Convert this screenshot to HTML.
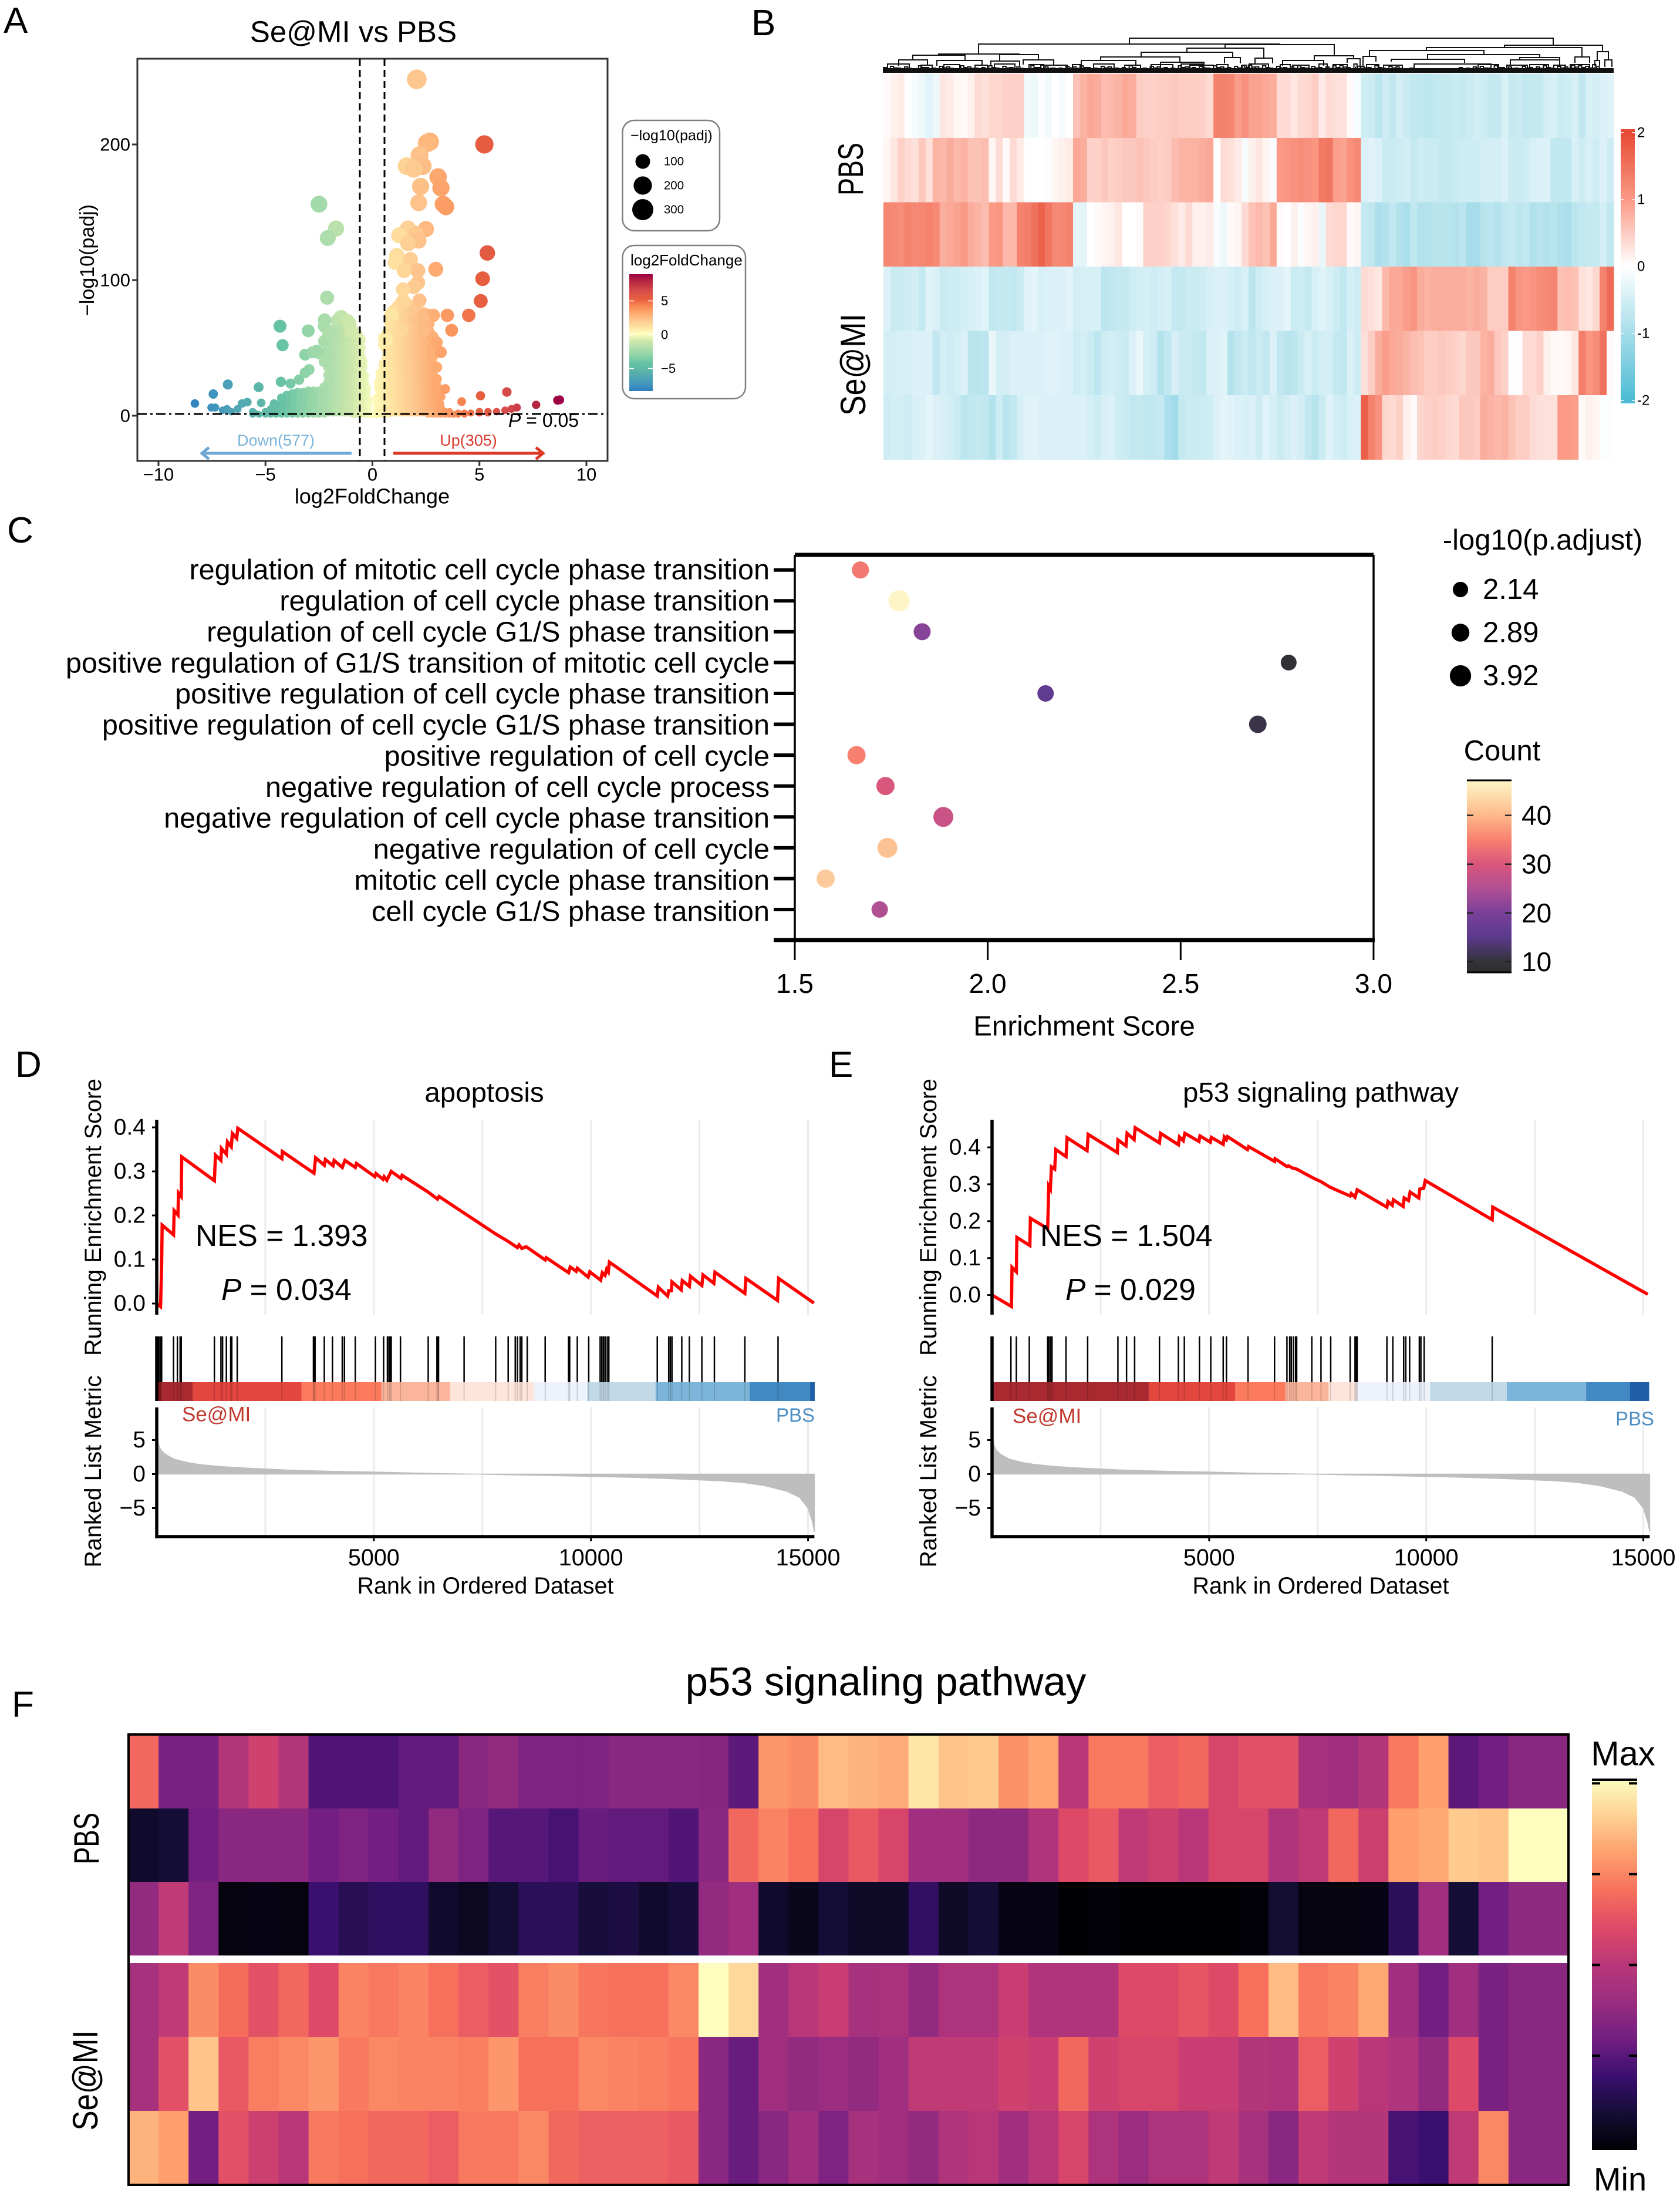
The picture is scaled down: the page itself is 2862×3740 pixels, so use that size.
<!DOCTYPE html>
<html lang="en">
<head>
<meta charset="utf-8">
<title>Se@MI vs PBS multi-panel figure</title>
<style>
html,body{margin:0;padding:0;background:#fff}
svg{display:block}
text{font-family:"Liberation Sans",sans-serif;fill:#000}
</style>
</head>
<body>
<svg id="figure" xmlns="http://www.w3.org/2000/svg" width="2862" height="3740" viewBox="0 0 2862 3740">
<rect x="0" y="0" width="2862" height="3740" fill="#fff"/>

<text x="6" y="56" font-size="62">A</text>
<text x="1280" y="60" font-size="62">B</text>
<text x="12" y="924" font-size="62">C</text>
<text x="26" y="1834" font-size="62">D</text>
<text x="1412" y="1834" font-size="62">E</text>
<text x="20" y="2924" font-size="62">F</text>

<!-- Panel A -->
<g id="panel-a">
  <text x="602" y="54" font-size="51" text-anchor="middle" dominant-baseline="central">Se@MI vs PBS</text>
  <g id="volcano-points"></g>
  <rect x="234" y="100" width="801" height="685" fill="none" stroke="#333" stroke-width="3"/>
  <line x1="613" x2="613" y1="100" y2="785" stroke="#000" stroke-width="3" stroke-dasharray="12 7"/>
  <line x1="655" x2="655" y1="100" y2="785" stroke="#000" stroke-width="3" stroke-dasharray="12 7"/>
  <line x1="234" x2="1035" y1="705" y2="705" stroke="#000" stroke-width="3" stroke-dasharray="16 6 4 6"/>
  <text x="866" y="716" font-size="32" dominant-baseline="central"><tspan font-style="italic">P</tspan> = 0.05</text>
  <text x="470" y="750" font-size="27" fill="#7ab3d8" style="fill:#7ab3d8" text-anchor="middle" dominant-baseline="central">Down(577)</text>
  <text x="798" y="750" font-size="27" style="fill:#d93a2e" text-anchor="middle" dominant-baseline="central">Up(305)</text>
  <path d="M599 772H344M356 762L344 772L356 782" fill="none" stroke="#6fa8d4" stroke-width="5"/>
  <path d="M670 772H925M913 762L925 772L913 782" fill="none" stroke="#dc3a28" stroke-width="5"/>
  <g id="volcano-axes"></g>
  <text x="634" y="845" font-size="36" text-anchor="middle" dominant-baseline="central">log2FoldChange</text>
  <text transform="translate(149,443) rotate(-90)" font-size="34" text-anchor="middle" dominant-baseline="central">−log10(padj)</text>
  <rect x="1060.5" y="205" width="165.5" height="188" rx="20" fill="#fff" stroke="#808080" stroke-width="2.5"/>
  <text x="1074" y="231" font-size="25" dominant-baseline="central">−log10(padj)</text>
  <g id="volcano-size-legend"></g>
  <rect x="1060.5" y="418" width="209.5" height="261" rx="20" fill="#fff" stroke="#808080" stroke-width="2.5"/>
  <text x="1074" y="443" font-size="26" dominant-baseline="central">log2FoldChange</text>
  <g id="volcano-color-legend"></g>
</g>

<!-- Panel B -->
<g id="panel-b">
  <g id="dendrogram" fill="none" stroke="#111" stroke-width="2"></g>
  <g id="expression-cells"></g>
  <text transform="translate(1470,288) rotate(-90)" font-size="60" text-anchor="middle" textLength="90" lengthAdjust="spacingAndGlyphs">PBS</text>
  <text transform="translate(1474,621) rotate(-90)" font-size="60" text-anchor="middle" textLength="174" lengthAdjust="spacingAndGlyphs">Se@MI</text>
  <g id="expression-legend"></g>
</g>

<!-- Panel C -->
<g id="panel-c">
  <g id="dotplot-axes"></g>
  <line x1="1354" x2="1354" y1="945" y2="1601" stroke="#000" stroke-width="3.5"/>
  <line x1="2340" x2="2340" y1="945" y2="1601" stroke="#000" stroke-width="3.5"/>
  <line x1="1354" x2="2340" y1="945" y2="945" stroke="#000" stroke-width="7"/>
  <line x1="1318" x2="2342" y1="1601" y2="1601" stroke="#000" stroke-width="7"/>
  <g id="dotplot-dots"></g>
  <text x="1847" y="1748" font-size="47.5" text-anchor="middle" dominant-baseline="central">Enrichment Score</text>
  <text x="2628" y="920" font-size="49" text-anchor="middle" dominant-baseline="central">-log10(p.adjust)</text>
  <g id="dotplot-size-legend"></g>
  <text x="2559" y="1279" font-size="49" text-anchor="middle" dominant-baseline="central">Count</text>
  <g id="dotplot-color-legend"></g>
</g>

<!-- Panel D -->
<g id="panel-d">
  <g id="gsea-d"></g>
  <text x="825" y="1861" font-size="47.5" text-anchor="middle" dominant-baseline="central">apoptosis</text>
  <text transform="translate(159,2073) rotate(-90)" font-size="39.5" text-anchor="middle" dominant-baseline="central">Running Enrichment Score</text>
  <text transform="translate(159,2506) rotate(-90)" font-size="39.5" text-anchor="middle" dominant-baseline="central">Ranked List Metric</text>
  <text x="827" y="2701" font-size="39.5" text-anchor="middle" dominant-baseline="central">Rank in Ordered Dataset</text>
  <text x="333" y="2104" font-size="51.5" dominant-baseline="central">NES = 1.393</text>
  <text x="377" y="2196" font-size="51.5" dominant-baseline="central"><tspan font-style="italic">P</tspan> = 0.034</text>
  <text x="310" y="2409" font-size="35" style="fill:#c0392f" dominant-baseline="central">Se@MI</text>
  <text x="1388" y="2410" font-size="33" style="fill:#4d8fc4" text-anchor="end" dominant-baseline="central">PBS</text>
</g>

<!-- Panel E -->
<g id="panel-e">
  <g id="gsea-e"></g>
  <text x="2250" y="1861" font-size="47.5" text-anchor="middle" dominant-baseline="central">p53 signaling pathway</text>
  <text transform="translate(1582,2073) rotate(-90)" font-size="39.5" text-anchor="middle" dominant-baseline="central">Running Enrichment Score</text>
  <text transform="translate(1582,2506) rotate(-90)" font-size="39.5" text-anchor="middle" dominant-baseline="central">Ranked List Metric</text>
  <text x="2250" y="2701" font-size="39.5" text-anchor="middle" dominant-baseline="central">Rank in Ordered Dataset</text>
  <text x="1772" y="2104" font-size="51.5" dominant-baseline="central">NES = 1.504</text>
  <text x="1815" y="2196" font-size="51.5" dominant-baseline="central"><tspan font-style="italic">P</tspan> = 0.029</text>
  <text x="1725" y="2412" font-size="35" style="fill:#c0392f" dominant-baseline="central">Se@MI</text>
  <text x="2818" y="2416" font-size="33" style="fill:#4d8fc4" text-anchor="end" dominant-baseline="central">PBS</text>
</g>

<!-- Panel F -->
<g id="panel-f">
  <text x="1509" y="2864" font-size="69" text-anchor="middle" dominant-baseline="central">p53 signaling pathway</text>
  <g id="p53-cells"></g>
  <rect x="219" y="2954" width="2453" height="767" fill="none" stroke="#000" stroke-width="4"/>
  <text transform="translate(168,3131) rotate(-90)" font-size="60" text-anchor="middle" textLength="88" lengthAdjust="spacingAndGlyphs">PBS</text>
  <text transform="translate(166,3543) rotate(-90)" font-size="60" text-anchor="middle" textLength="171" lengthAdjust="spacingAndGlyphs">Se@MI</text>
  <text x="2765" y="2987" font-size="58" text-anchor="middle" dominant-baseline="central">Max</text>
  <text x="2760" y="3711" font-size="56" text-anchor="middle" dominant-baseline="central">Min</text>
  <g id="p53-legend"></g>
</g>
<defs id="grads"></defs>
</svg>

<script>
// ---------- Panel A data ----------
const volcanoXTicks = [-10, -5, 0, 5, 10];
const volcanoYTicks = [0, 100, 200];
const volcanoColumnFc = [-0.1,-0.2,-0.3,-0.4,-0.5,-0.6,-0.75,-0.9,-1.05,-1.25,-1.45,-1.65,-1.85,-2.05,-2.25,-2.5,-2.75,-3,-3.25,-3.5,-3.75,-4,-4.25,-4.5,-4.75,-5,-5.3,-5.6,
  0.1,0.2,0.3,0.4,0.55,0.7,0.85,1,1.2,1.4,1.6,1.8,2,2.2,2.4,2.6,2.8,3,3.2,3.4,3.6,3.8,4,4.3,4.6,5,5.4,5.8,6.2,6.5];
const volcanoColumnPadj = [
 [0.5,1],[1,4,8,11],[1,5,10,15,20],[1,6,12,18,24,29],[1,6,11,16,21,26,31,36,40],[1,6,11,16,21,26,32,38,44,50,56],[1,6,11,16,21,26,32,38,44,50,55,60],[1,6,11,16,21,26,32,38,44,50,56,62],
 [2,7,12,17,22,27,32,38,44,50,56,63,68],[2,7,12,17,22,27,32,38,44,50,56,64,70],[2,7,12,17,22,27,32,38,44,50,57,65,73],[2,7,12,17,22,27,32,38,44,50,57,64,70],[2,7,12,17,22,27,32,38,44,50,56,62],
 [2,6,10,15,20,25,30,36,44,52,60],[1,5,9,13,17,21,40,46,55,66],[1,5,9,13,18,46],[1,5,9,13,18,47],[1,5,9,13,18],[1,5,9,13,17],[1,5,9,13,17],[1,5,9,12,16],[1,5,9,12,15],[1,4,7,10,13],[1,4,8],[1,3,5],[1,3],[1],[1,3],
 [0.5,1],[0.5,2,5,9,13],[1,4,9,14,20,24],[1,5,10,16,22,28,31],[1,6,11,16,21,26,31,35,38,52,57],[1,6,11,16,21,26,31,37,43,49,55,60],[2,7,12,17,22,27,32,38,44,50,56,62,68,74],
 [2,7,12,17,22,27,32,38,44,50,56,62,68,77],[2,7,12,17,22,27,32,38,44,50,56,62,68,74,80],[2,7,12,17,22,27,32,38,44,50,56,62,68,76,84],[2,7,12,17,22,27,32,38,44,50,56,62,68,75,82],[2,7,12,17,22,27,32,38,44,50,56,62,68,76],
 [2,7,12,17,22,27,32,38,44,50,56,62,70,78],[2,7,12,17,22,27,32,38,44,50,56,62,70,85],[2,7,12,17,22,27,32,38,44,50,56,62,70,75],[1,6,11,16,21,26,32,38,44,50,56,62,68,74],[1,6,11,16,21,26,32,38,44,50,58],[1,5,9,13,17,22,27],[1,3,6,14],[1,3],[1,3],[1],[1,2],[1,2],[2],[2,3],[2,3],[3],[4],[5]
];
const volcanoOutlierFc = [2.07,2.68,2.55,5.23,2.2,2.35,1.6,1.93,3.07,3.2,2.25,2.16,3.3,3.43,-2.5,-1.7,-2.09,1.66,2.5,2.05,1.25,2.16,1.66,5.37,1.14,1.77,1.07,2.96,2.12,1.48,5.15,2.12,1.93,1.43,-2.12,5.06,2.2,1.48,4.5,3.5,2.84,0.91,2.39,-2.24,-1.5,-1.15,3.7,-4.32,-3,-1.98,-1.02,2.39,1.37,0.68,3,-4.2,3.2,-3.15,-2.8,-2.6,-2.16,3,-2.96,-3.15,-3.43,-3.83,-4.28,-5.32,-6.76,-7.44,-8.3,-7.53,-7.35,6.28,5.05,4.17,3.4,3.15,8.65,8.75,7.65,6.75,-5.2,-5.85,-6.1,-7,-6.8,-6.6,-6.3,-5.5,-4.9,-4.6];
const volcanoOutlierPadj = [248,202,201,200,192,184,184,182,176,168,169,157,156,154,156,138,131,138,137.6,134,133,129,127,120,118,115,113,108,107,107,101,98,95,93,87,84.6,85,84,74,74,74,74,72,70.6,72.7,70,63,66,62.6,61,62,62,63,56,54,52,46.8,45,46.8,48,42,35.7,34,31.6,26.6,23.7,25,21,23,16,9,6,6,17.5,14.7,10.4,19.7,9,11.4,11.7,8,6,9.5,10,9,4,5,3,5,2,3,9];
const volcanoColorPos = [-8.7,-7.5,-6.8,-5.3,-4.3,-3,-2,-1,0,1,2,3,4,5,6.3,7.6,8.7];
const volcanoColorHex = ['#2a7fc0','#3f92bd','#4a9fb8','#5db5a8','#66c2a5','#93d5a7','#b0deac','#d0e9ab','#ffffbf','#fee2a0','#fdc890','#fdaa70','#f98a55','#e8603f','#d64b4b','#b8283f','#9e0142'];
const volcanoSizeLegendValues = [100,200,300];
const volcanoColorLegendTicks = [-5,0,5];

// ---------- Panel B data ----------
const exprRow1 = [.05,.15,.2,0,-.1,-.2,-.35,-.2,.25,.2,.1,.05,.15,.35,.3,.4,.4,.45,.45,.45,-.15,-.2,-.05,-.15,0,-.1,0,
 .6,.75,.85,.8,.65,.7,.75,.85,.8,.5,.45,.45,.5,.5,.55,.5,.5,.5,.45,.35,
 1.3,1.3,1.25,.95,1.1,.9,.9,.85,.8,.35,.35,.25,.35,.4,.5,.2,.35,.3,.3,.05,-.1,
 -.55,-.6,-.75,-.55,-.7,-.5,-.6,-.7,-.7,-.75,-.7,-.65,-.65,-.6,-.65,-.6,-.5,-.55,-.65,-.65,-.45,-.65,-.6,-.7,-.65,-.65,-.5,-.45,-.6,-.55,-.45,-.7,-.45,-.5,-.4,-.35];
const exprRow2 = [.1,.25,.45,.35,.3,.55,.3,.75,.7,.8,.7,.75,.6,.6,.65,.1,.35,.05,.35,.2,-.03,0,0,-.05,.1,.15,.2,
 .85,.8,.45,.45,.55,.45,.5,.55,.55,.6,.55,.5,.45,.5,.65,.75,.75,.75,.8,.85,
 0,.35,.3,.2,-.1,.15,.25,.1,-.05,1,1.05,1.1,1.15,1.1,1.05,1.4,1.45,.95,.9,1.1,1.2,
 -.4,-.35,-.4,-.6,-.6,-.55,-.5,-.65,-.55,-.6,-.6,-.65,-.65,-.6,-.55,-.55,-.55,-.5,-.5,-.5,-.4,-.6,-.6,-.55,-.45,-.4,-.4,-.7,-.7,-.7,-.45,-.55,-.45,-.55,-.4,-.55];
const exprRow3 = [1.25,1.2,1.15,1.3,1.2,1.25,1.3,1.2,.8,.85,.9,1,.8,.75,.65,1,1.05,.7,.7,1.3,1.35,1.5,1.7,1.45,1.2,1.25,1.3,
 -.3,-.3,0,.05,.1,.15,.25,0,0,.05,.45,.45,.45,.4,.3,.2,.35,.15,.15,.2,
 -.1,-.2,.05,.1,.35,.6,.7,.6,.85,.05,0,.15,-.05,.1,.15,-.25,.35,.4,.4,.05,.1,
 -.65,-.7,-.95,-.85,-.7,-.85,-.95,-.7,-.85,-.85,-.8,-.8,-.8,-.85,-.75,-1,-1,-.8,-.75,-.85,-.7,-.65,-.75,-.7,-.9,-.8,-.85,-.8,-.9,-.95,-.75,-.7,-.65,-.65,-.5,-.7];
const exprRow4 = [-.4,-.6,-.6,-.55,-.5,-.65,-.35,-.4,-.6,-.55,-.55,-.5,-.45,-.4,-.35,-.7,-.65,-.65,-.7,-.6,-.35,-.3,-.45,-.4,-.4,-.4,-.35,-.5,-.45,-.45,-.45,-.75,-.7,-.65,-.65,-.55,-.5,-.5,-.55,-.5,-.45,-.65,-.65,-.6,-.6,-.55,-.45,-.4,-.4,-.5,-.55,-.45,
 -.75,-.55,-.45,-.4,-.4,-.3,-.6,-.55,-.65,-.45,-.35,-.45,-.55,-.7,-.5,-.55,
 .35,.3,.25,.7,.85,.85,.95,1.05,.8,.75,.8,.8,.8,.8,.8,.75,.8,.75,.5,.5,.5,1.3,1.05,1,1.05,1.15,1.2,1.25,.6,.65,.6,.3,.25,.4,1.3,1.6];
const exprRow5 = [-.5,-.5,-.45,-.45,-.4,-.4,-.4,-.7,-.5,-.55,-.5,-.4,-.75,-.8,-.75,-.25,-.5,-.5,-.4,-.4,-.4,-.4,-.4,-.35,-.35,-.4,-.4,-.55,-.5,-.6,-.75,-.55,-.5,-.55,-.6,-.4,-.25,-.5,-.55,-.85,-.7,-.45,-.6,-.6,-.65,-.7,-.4,-.4,-.35,-.85,-.7,-.6,
 -.7,-.6,-.7,-.4,-.7,-.8,-.75,-.6,-.45,-.6,-.5,-.5,-.65,-.7,-.4,-.55,
 .3,.5,.8,.95,.85,.8,.75,.65,.6,.5,.5,.55,.5,.45,.4,.55,.55,.75,.8,.55,.45,-.02,.02,.35,.35,.45,.15,.05,.05,.1,.25,1.35,1.05,1.15,1.5,.05];
const exprRow6 = [-.55,-.5,-.5,-.55,-.45,-.4,-.3,-.4,-.45,-.5,-.6,-.75,-.7,-.65,-.7,-.85,-.55,-.8,-.7,-.45,-.35,-.35,-.4,-.4,-.4,-.4,-.4,-.4,-.4,-.5,-.55,-.45,-.4,-.55,-.6,-.7,-.65,-.7,-.7,-.65,-.95,-1.05,-.65,-.6,-.6,-.55,-.55,-.4,-.3,-.35,-.4,-.45,
 -.4,-.55,-.35,-.5,-.6,-.5,-.4,-.5,-.7,-.8,-.6,-.35,-.5,-.55,-.45,-.4,
 1.75,1.3,1.1,.4,.35,.45,.15,.05,.4,.45,.5,.45,.4,.35,.55,.55,.5,.8,.75,.7,.75,.6,.5,.5,.35,.3,.3,.3,1,1,.95,.05,.15,.1,-.05,-.03];
const exprRows = [exprRow1, exprRow2, exprRow3, exprRow4, exprRow5, exprRow6];
const exprColorPos = [-2,0,1,2];
const exprColorHex = ['#4dbbd5','#ffffff','#fa9985','#e64b35'];
const exprLegendTicks = [2,1,0,-1,-2];
const dendLeft  = [419,162,582,517,439,370,337,472,581,94,50,26,91,198,238,183,734,680,790,633,1058,925,828,927,817,865,904,1068,1084,1178,1216,1212,1229,
 7,64,103,156,189,248,268,322,358,411,456,507,522,568,611,623,676,697,742,766,823,852,913,1013,1062,1101,1142,1170];
const dendRight = [1141,675,768,648,595,505,430,546,608,231,139,75,168,264,290,232,801,750,812,663,1225,1190,1023,1118,839,990,1035,1152,1152,1203,1235,1220,1241,
 44,83,130,177,224,273,313,337,393,438,493,546,562,587,619,656,693,725,756,790,844,884,1003,1048,1097,1133,1162,1203];
const dendHeight = [59,49,48,42,35,27,21,18,26,32,30,22,21,31,22,20,29,21,24,25,47,43,38,31,28,23,15,22,26,27,36,21,22,
 15,13,14,13,15,14,13,14,15,13,14,15,13,14,13,15,14,13,15,14,14,13,7,14,13,14,13,14];
const dendLeftChild  = [49,32,42,35,27,21,11,11,16,30,22,12,12,20,14,12,22,12,17,16,44,39,29,24,9,19,6,14,22,17,22,12,10,
 8,7,8,7,8,8,7,8,8,7,8,8,7,8,7,8,8,7,8,8,8,7,4,8,7,8,7,8];
const dendRightChild = [47,48,29,24,26,19,11,11,16,31,21,12,12,22,14,12,24,12,9,16,37,27,31,26,19,17,6,14,14,17,22,12,10,
 8,7,8,7,8,8,7,8,8,7,8,8,7,8,7,8,8,7,8,8,8,7,4,8,7,8,7,8];
const dendLeafHeights = [9,11,8,10,7,12,9,8,11,10,7,12,10,8,9,12,8,11,9,10,7,12,9,10,8,8,11,
 10,12,9,8,11,10,8,9,12,7,8,11,10,9,8,12,10,9,11,8,12,10,9,11,12,13,10,12,8,11,9,10,12,8,11,9,10,12,13,9,15,
 11,9,12,8,11,10,7,8,6,6,7,6,7,6,9,8,10,11,8,12,9,10,8,11,9,10,12,8,11,10,13,12,11,14];

// ---------- Panel C data ----------
const dotTerms = ['regulation of mitotic cell cycle phase transition','regulation of cell cycle phase transition','regulation of cell cycle G1/S phase transition','positive regulation of G1/S transition of mitotic cell cycle','positive regulation of cell cycle phase transition','positive regulation of cell cycle G1/S phase transition','positive regulation of cell cycle','negative regulation of cell cycle process','negative regulation of cell cycle phase transition','negative regulation of cell cycle','mitotic cell cycle phase transition','cell cycle G1/S phase transition'];
const dotEnrichment = [1.67,1.77,1.83,2.78,2.15,2.70,1.66,1.735,1.885,1.74,1.58,1.72];
const dotLogP = [2.67,3.86,2.63,2.28,2.46,2.8,2.98,2.98,3.5,3.5,2.98,2.46];
const dotCount = [34,47,21,9,16,11,35,30,28,41,42,25];
const dotXTicks = [1.5,2.0,2.5,3.0];
const dotSizeLegendValues = [2.14,2.89,3.92];
const dotCountTicks = [40,30,20,10];
const dotColorPos = [7.8,10,15,20,25,30,35,40,47.2];
const dotColorHex = ['#2e2e2e','#33333a','#5b3a8c','#7a4199','#b14f93','#d9567c','#f8806f','#fdb98a','#fdf7c8'];

// ---------- Panels D / E data ----------
const gseaXTicks = [5000,10000,15000];
const gseaGridRanks = [2500,5000,7500,10000,12500,15000];
const metricTicks = [5,0,-5];
const metricRanks = [0,12,50,100,200,400,700,1000,1500,2000,3000,4000,5000,6000,7000,7500,8000,9000,10000,11000,12000,13000,13500,14000,14500,14800,15000,15100,15147];
const metricValues = [8,5.5,4.2,3.5,2.9,2.2,1.7,1.4,1.1,.9,.6,.42,.3,.15,.03,-.02,-.1,-.22,-.35,-.5,-.72,-1,-1.25,-1.7,-2.5,-3.4,-5,-7,-8.5];
const bandColors = ['#a82a30','#e3453f','#fb7a5e','#fcb59d','#fee5db','#eef2fb','#c2d9e8','#7cb5d9','#4089c2','#2060a8'];

const esTicksD = [0,0.1,0.2,0.3,0.4];
const esRanksD = [0,88,113,125,388,401,489,501,564,576,1328,1353,1479,1491,1604,1629,1717,1742,1842,1867,2882,2894,3621,3659,3859,3884,4060,4085,4273,4335,4573,4599,5025,5050,5212,5238,5300,5400,5626,5651,6252,6465,6503,7806,8094,8307,8345,8408,8508,8946,8971,9485,9523,9661,9686,9936,9974,10224,10262,10325,10362,10400,10425,11528,11553,11766,11791,11853,11866,12079,12104,12267,12292,12555,12580,12831,12856,13545,13570,14297,14322,15136];
const esValuesD = [0,-.007,.088,.178,.156,.211,.201,.251,.243,.333,.279,.337,.325,.352,.339,.367,.356,.386,.375,.398,.329,.345,.296,.331,.314,.327,.313,.325,.309,.325,.309,.318,.288,.295,.282,.288,.28,.3,.284,.291,.253,.237,.243,.158,.141,.127,.133,.125,.129,.099,.104,.07,.083,.073,.08,.06,.072,.053,.07,.064,.078,.072,.094,.017,.037,.017,.029,.029,.049,.031,.052,.039,.062,.041,.065,.046,.071,.023,.057,.007,.057,.001];
const hitsD = [0,12,50,88,113,388,476,539,564,1328,1479,1516,1604,1704,1729,1854,2882,3609,3621,3646,3859,4047,4273,4323,4573,5037,5225,5313,5350,5375,5400,5613,6252,6453,6478,6490,7079,7806,8094,8257,8307,8370,8408,8533,8946,9485,9510,9686,9949,10212,10250,10287,10325,10375,10412,11528,11791,11828,11866,12092,12267,12555,12843,13545,14309];
const bandEdgesD = [100,826,3332,5174,6753,8682,9910,11489,13657,15048,15148];

const esTicksE = [0,0.1,0.2,0.3,0.4];
const esRanksE = [0,448,460,560,572,871,883,1281,1294,1306,1344,1368,1443,1468,1704,1729,2189,2214,2886,2899,3085,3110,3272,3297,3856,3881,4292,4317,4404,4441,4765,4789,5026,5051,5324,5349,5399,5424,5884,5909,6506,6519,6792,6830,6917,7016,7377,7576,7787,8248,8273,8360,8409,9094,9119,9218,9243,9467,9492,9591,9629,9828,9852,9940,9977,11519,11532,15102];
const esValuesE = [0,-.031,.075,.063,.156,.134,.208,.18,.238,.295,.287,.347,.341,.394,.375,.426,.391,.435,.386,.42,.404,.438,.421,.453,.412,.438,.407,.428,.418,.438,.416,.431,.414,.427,.408,.428,.421,.429,.394,.402,.362,.369,.348,.35,.344,.341,.318,.307,.292,.268,.275,.265,.285,.238,.253,.243,.258,.24,.263,.256,.279,.263,.287,.289,.31,.204,.238,.002];
const hitsE = [12,435,560,858,1281,1306,1344,1381,1704,2202,2899,3098,3284,3856,4292,4429,4777,5038,5324,5399,5896,6506,6792,6855,6892,6942,6992,7016,7365,7576,7800,8248,8360,8385,8409,9094,9231,9480,9529,9617,9841,9877,9952,11519];
const bandEdgesE = [0,3608,5598,6755,7750,8385,10089,11856,13684,14692,15127];

// ---------- Panel F data ----------
const p53Row1 = [.68,.32,.32,.48,.56,.48,.24,.24,.24,.27,.27,.36,.38,.33,.33,.33,.36,.36,.36,.35,.26,.78,.76,.86,.84,.83,.95,.88,.89,.77,.81,.5,.72,.72,.65,.68,.58,.62,.62,.44,.42,.48,.72,.8,.26,.3,.36,.36];
const p53Row2 = [.08,.1,.3,.36,.36,.36,.3,.33,.3,.27,.38,.33,.25,.25,.22,.28,.27,.27,.24,.36,.68,.74,.7,.58,.64,.58,.42,.42,.37,.37,.47,.6,.64,.52,.55,.5,.58,.58,.47,.52,.68,.55,.8,.82,.89,.88,1,1];
const p53Row3 = [.38,.52,.33,.02,.03,.02,.2,.15,.17,.17,.08,.06,.1,.16,.16,.11,.12,.08,.11,.38,.42,.08,.05,.1,.07,.07,.18,.07,.1,.03,.03,0,.01,0,0,0,0,.01,.09,.02,.02,.03,.16,.42,.1,.3,.37,.37];
const p53Row4 = [.44,.52,.76,.69,.62,.68,.6,.74,.72,.74,.7,.65,.62,.73,.76,.71,.7,.7,.75,1,.92,.42,.5,.54,.44,.45,.38,.46,.46,.54,.47,.47,.47,.6,.6,.63,.6,.7,.86,.72,.74,.82,.42,.3,.42,.32,.36,.36];
const p53Row5 = [.44,.62,.88,.64,.73,.75,.78,.72,.75,.74,.74,.73,.78,.7,.7,.75,.74,.73,.71,.36,.28,.42,.38,.4,.38,.42,.52,.52,.52,.56,.54,.68,.56,.58,.58,.54,.54,.48,.47,.65,.56,.5,.47,.38,.6,.32,.36,.36];
const p53Row6 = [.84,.8,.3,.62,.55,.5,.72,.7,.68,.68,.65,.72,.72,.75,.68,.66,.66,.66,.64,.36,.28,.36,.42,.33,.44,.42,.38,.47,.5,.42,.5,.58,.46,.4,.46,.46,.52,.44,.36,.52,.48,.48,.22,.2,.52,.75,.36,.36];
const p53Rows = [p53Row1,p53Row2,p53Row3,p53Row4,p53Row5,p53Row6];
const p53LegendTicks = [.255,.5,.745,.99];
const magmaPos = [0,.1,.2,.3,.4,.5,.6,.7,.8,.9,1];
const magmaHex = ['#000004','#140e36','#3b0f70','#721f81','#9a2d80','#b93779','#de4968','#f7705c','#fe9f6d','#fecf92','#fcfdbf'];

// ---------- helpers ----------
const NS = 'http://www.w3.org/2000/svg';
function $(id){ return document.getElementById(id); }
function mk(tag, attrs, parent){
  const node = document.createElementNS(NS, tag);
  for (const k in attrs) node.setAttribute(k, attrs[k]);
  parent.appendChild(node);
  return node;
}
function hex2rgb(h){ return [parseInt(h.slice(1,3),16),parseInt(h.slice(3,5),16),parseInt(h.slice(5,7),16)]; }
function ramp(pos, hex, v){
  if (v <= pos[0]) return hex[0];
  for (let i = 1; i < pos.length; i++){
    if (v <= pos[i]){
      const t = (v-pos[i-1])/(pos[i]-pos[i-1]);
      const a = hex2rgb(hex[i-1]), b = hex2rgb(hex[i]);
      return 'rgb('+a.map((c,j)=>Math.round(c+(b[j]-c)*t)).join(',')+')';
    }
  }
  return hex[hex.length-1];
}
function gradient(id, lo, hi, pos, hex){
  const g = mk('linearGradient',{id:id,x1:0,y1:1,x2:0,y2:0},$('grads'));
  pos.forEach((p,i)=>{
    if (p < lo-1e-9 && (i+1>=pos.length || pos[i+1] < lo)) return;
    mk('stop',{offset:Math.max(0,Math.min(1,(p-lo)/(hi-lo))),'stop-color':hex[i]},g);
  });
  return 'url(#'+id+')';
}
function minus(n){ return String(n).replace('-','−'); }

// ---------- Panel A ----------
const vx = fc => 634.5 + fc*36.45;
const vy = p => 708 - p*2.31;
const vr = p => 5 + 0.75*Math.sqrt(Math.max(p,0));
const volcanoPts = $('volcano-points');
volcanoColumnFc.forEach((fc,i)=>{
  volcanoColumnPadj[i].forEach(p=>{
    const el = mk('circle',{cx:vx(fc),cy:vy(p),r:vr(p),fill:ramp(volcanoColorPos,volcanoColorHex,fc)},volcanoPts);
    
    
  });
});
volcanoOutlierFc.forEach((fc,i)=>{
  const p = volcanoOutlierPadj[i];
  const el = mk('circle',{cx:vx(fc),cy:vy(p),r:vr(p),fill:ramp(volcanoColorPos,volcanoColorHex,fc)},volcanoPts);
  
  
});
volcanoXTicks.forEach(t=>{
  const tick = mk('line',{x1:vx(t),x2:vx(t),y1:785,y2:794,stroke:'#333','stroke-width':3},$('volcano-axes'));
  
  
  const lab = mk('text',{x:vx(t),y:808,'font-size':31,'text-anchor':'middle','dominant-baseline':'central'},$('volcano-axes'));
  lab.textContent = minus(t);
  
  
});
volcanoYTicks.forEach(t=>{
  const tick = mk('line',{x1:225,x2:234,y1:vy(t),y2:vy(t),stroke:'#333','stroke-width':3},$('volcano-axes'));
  
  
  const lab = mk('text',{x:222,y:vy(t),'font-size':31,'text-anchor':'end','dominant-baseline':'central'},$('volcano-axes'));
  lab.textContent = t;
  
  
});
volcanoSizeLegendValues.forEach((v,i)=>{
  const cy = 275 + i*41;
  const dot = mk('circle',{cx:1095,cy:cy,r:vr(v),fill:'#000'},$('volcano-size-legend'));
  
  
  const lab = mk('text',{x:1148,y:cy,'font-size':20.5,'text-anchor':'middle','dominant-baseline':'central'},$('volcano-size-legend'));
  lab.textContent = v;
  
  
});
const vbar = mk('rect',{x:1072,y:467,width:40,height:199,fill:gradient('volcanoGrad',-8.35,8.7,volcanoColorPos,volcanoColorHex)},$('volcano-color-legend'));


volcanoColorLegendTicks.forEach(t=>{
  const y = 570 - t*11.5;
  const w1 = mk('path',{d:`M1072 ${y}h8M1104 ${y}h8`,stroke:'#fff','stroke-width':1.5,fill:'none'},$('volcano-color-legend'));
  
  
  const lab = mk('text',{x:1126,y:y,'font-size':22,'dominant-baseline':'central'},$('volcano-color-legend'));
  lab.textContent = minus(t);
  
  
});

// ---------- Panel B ----------
const EX0 = 1505, EX1 = 2749, EY0 = 125.5, ERH = 109.5;
const exprColW = (EX1-EX0)/exprRow1.length;
exprRows.forEach((row,r)=>{
  row.forEach((v,c)=>{
    const el = mk('rect',{x:EX0+c*exprColW,y:EY0+r*ERH,width:exprColW+0.5,height:ERH+0.4,fill:ramp(exprColorPos,exprColorHex,v)},$('expression-cells'));
    
    
  });
});
const DX = leaf => EX0 + leaf;
const DY = h => 124 - h;
dendLeft.forEach((l,i)=>{
  const d = `M${DX(l)} ${DY(dendLeftChild[i])}V${DY(dendHeight[i])}H${DX(dendRight[i])}V${DY(dendRightChild[i])}`;
  const el = mk('path',{d:d},$('dendrogram'));
  
  
});
dendLeafHeights.forEach((h,i)=>{
  const a = i*exprColW, w = exprColW;
  const d = `M${DX(a)} 124V${DY(h)}H${DX(a+w*0.45)}V124M${DX(a+w*0.22)} 124V${DY(h*0.7)}M${DX(a+w*0.55)} 124V${DY(h*0.75)}H${DX(a+w*0.95)}V124M${DX(a+w*0.75)} 124V${DY(h*0.5)}`;
  const el = mk('path',{d:d},$('dendrogram'));
  
  
});
const band = mk('rect',{x:EX0,y:116,width:EX1-EX0,height:8,fill:'#111',stroke:'none'},$('dendrogram'));


const ebar = mk('rect',{x:2761,y:220,width:24,height:467,fill:gradient('exprGrad',-2.05,2.05,exprColorPos,exprColorHex)},$('expression-legend'));


exprLegendTicks.forEach(t=>{
  const y = 454 - t*114;
  const w = mk('path',{d:`M2761 ${y}h5M2780 ${y}h5`,stroke:'#fff','stroke-width':1.5,fill:'none'},$('expression-legend'));
  
  
  const lab = mk('text',{x:2789,y:y,'font-size':24,'dominant-baseline':'central'},$('expression-legend'));
  lab.textContent = t;
  
  
});

// ---------- Panel C ----------
const cx = v => 1354 + (v-1.5)*657.3;
const cy = i => 970.7 + i*52.57;
const cr = v => 7 + 2.85*v;
dotTerms.forEach((term,i)=>{
  const tick = mk('line',{x1:1318,x2:1354,y1:cy(i),y2:cy(i),stroke:'#000','stroke-width':6},$('dotplot-axes'));
  
  
  const lab = mk('text',{x:1311,y:cy(i)+i*0.3,'font-size':48.6,'text-anchor':'end','dominant-baseline':'central'},$('dotplot-axes'));
  lab.textContent = term;
  
  
  const dot = mk('circle',{cx:cx(dotEnrichment[i]),cy:cy(i),r:cr(dotLogP[i]),fill:ramp(dotColorPos,dotColorHex,dotCount[i])},$('dotplot-dots'));
  
  
});
dotXTicks.forEach(t=>{
  const tick = mk('line',{x1:cx(t),x2:cx(t),y1:1601,y2:1635,stroke:'#000','stroke-width':3},$('dotplot-axes'));
  
  
  const lab = mk('text',{x:cx(t),y:1675,'font-size':46,'text-anchor':'middle','dominant-baseline':'central'},$('dotplot-axes'));
  lab.textContent = t.toFixed(1);
  
  
});
dotSizeLegendValues.forEach((v,i)=>{
  const y = 1004 + i*73.5;
  const dot = mk('circle',{cx:2488,cy:y,r:cr(v),fill:'#000'},$('dotplot-size-legend'));
  
  
  const lab = mk('text',{x:2526,y:y,'font-size':49,'dominant-baseline':'central'},$('dotplot-size-legend'));
  lab.textContent = v.toFixed(2);
  
  
});
const cbar = mk('rect',{x:2499,y:1329,width:76,height:327,fill:gradient('dotGrad',7.8,47.2,dotColorPos,dotColorHex),stroke:'none'},$('dotplot-color-legend'));


const cbarEdges = mk('path',{d:'M2499 1329h76M2499 1656h76',stroke:'#000','stroke-width':3,fill:'none'},$('dotplot-color-legend'));


dotCountTicks.forEach(t=>{
  const y = 1388.6 + (40-t)*8.31;
  const tk = mk('path',{d:`M2499 ${y}h11M2564 ${y}h11`,stroke:'#222','stroke-width':2.5,fill:'none'},$('dotplot-color-legend'));
  
  
  const lab = mk('text',{x:2592,y:y,'font-size':46,'dominant-baseline':'central'},$('dotplot-color-legend'));
  lab.textContent = t;
  
  
});

// ---------- Panels D / E ----------
function drawGsea(rootId, x0, y0es, esPx, esTicks, esRanks, esValues, hits, bandEdges, prefixBandStart){
  const root = $(rootId);
  const gx = r => x0 + r*0.07397;
  const gy = v => y0es - v*esPx;
  const my = v => 2510.5 - v*11.6;
  const xEnd = gx(15147);
  gseaGridRanks.forEach(r=>{
    const g1 = mk('path',{d:`M${gx(r)} 1907V2239M${gx(r)} 2397V2617`,stroke:'#ebebeb','stroke-width':3,fill:'none'},root);
    
    
  });
  // rank metric area
  let d = `M${gx(metricRanks[0])} ${my(0)}`;
  metricRanks.forEach((r,i)=>{ d += `L${gx(r)} ${my(metricValues[i])}`; });
  d += `L${gx(metricRanks[metricRanks.length-1])} ${my(0)}Z`;
  const area = mk('path',{d:d,fill:'#bebebe',stroke:'#bebebe','stroke-width':1.5},root);
  
  
  // colour band
  if (prefixBandStart){
    const pre = mk('rect',{x:gx(0),y:2354,width:gx(bandEdges[0])-gx(0),height:32,fill:'#8e1a1c'},root);
    
    
  }
  bandColors.forEach((c,i)=>{
    const a = bandEdges[i], b = bandEdges[i+1];
    const seg = mk('rect',{x:gx(a),y:2354,width:gx(b)-gx(a)+0.5,height:32,fill:c},root);
    
    
  });
  // hits
  hits.forEach(r=>{
    const h = mk('line',{x1:gx(r),x2:gx(r),y1:2276,y2:2354,stroke:'#000','stroke-width':2.5},root);
    
    
    const s = mk('line',{x1:gx(r),x2:gx(r),y1:2354,y2:2386,stroke:'#000','stroke-width':2,'stroke-opacity':0.15},root);
    
    
  });
  // ES line
  const pts = esRanks.map((r,i)=>gx(r)+','+gy(esValues[i])).join(' ');
  const line = mk('polyline',{points:pts,fill:'none',stroke:'#ff0000','stroke-width':5.5,'stroke-linejoin':'miter'},root);
  
  
  // axes
  const ax = mk('path',{d:`M${x0} 1907V2239M${x0} 2276V2386M${x0} 2397V2620M${x0} 2617H${xEnd}`,stroke:'#000','stroke-width':5.5,fill:'none'},root);
  
  
  esTicks.forEach(t=>{
    const tk = mk('line',{x1:x0-8,x2:x0,y1:gy(t),y2:gy(t),stroke:'#000','stroke-width':3},root);
    
    
    const lab = mk('text',{x:x0-19,y:gy(t),'font-size':39,'text-anchor':'end','dominant-baseline':'central'},root);
    lab.textContent = t.toFixed(1);
    
    
  });
  metricTicks.forEach(t=>{
    const tk = mk('line',{x1:x0-8,x2:x0,y1:my(t),y2:my(t),stroke:'#000','stroke-width':3},root);
    
    
    const lab = mk('text',{x:x0-19,y:my(t),'font-size':39,'text-anchor':'end','dominant-baseline':'central'},root);
    lab.textContent = minus(t);
    
    
  });
  gseaXTicks.forEach(t=>{
    const tk = mk('line',{x1:gx(t),x2:gx(t),y1:2617,y2:2625,stroke:'#000','stroke-width':3},root);
    
    
    const lab = mk('text',{x:gx(t),y:2653,'font-size':39.5,'text-anchor':'middle','dominant-baseline':'central'},root);
    lab.textContent = t;
    
    
  });
}
drawGsea('gsea-d',267,2220,750,esTicksD,esRanksD,esValuesD,hitsD,bandEdgesD,true);
drawGsea('gsea-e',1690,2205.6,629,esTicksE,esRanksE,esValuesE,hitsE,bandEdgesE,false);

// ---------- Panel F ----------
const FX0 = 219, FCW = (2672-219)/p53Row1.length;
const p53RowTop = r => r < 3 ? 2955 + r*125 : 3343 + (r-3)*126;
const p53RowH = r => r < 3 ? 125.4 : 126.4;
p53Rows.forEach((row,r)=>{
  row.forEach((v,c)=>{
    const el = mk('rect',{x:FX0+c*FCW,y:p53RowTop(r),width:FCW+0.5,height:p53RowH(r),fill:ramp(magmaPos,magmaHex,v)},$('p53-cells'));
    
    
  });
});
const fbar = mk('rect',{x:2712,y:3031,width:77,height:631,fill:gradient('magmaGrad',0,1,magmaPos,magmaHex)},$('p53-legend'));


const fTop = mk('line',{x1:2712,x2:2789,y1:3031,y2:3031,stroke:'#000','stroke-width':4},$('p53-legend'));


p53LegendTicks.forEach(t=>{
  const y = 3662 - t*631;
  const tk = mk('path',{d:`M2712 ${y}h14M2775 ${y}h14`,stroke:'#000','stroke-width':4,fill:'none'},$('p53-legend'));
  
  
});
</script>
</body>
</html>
